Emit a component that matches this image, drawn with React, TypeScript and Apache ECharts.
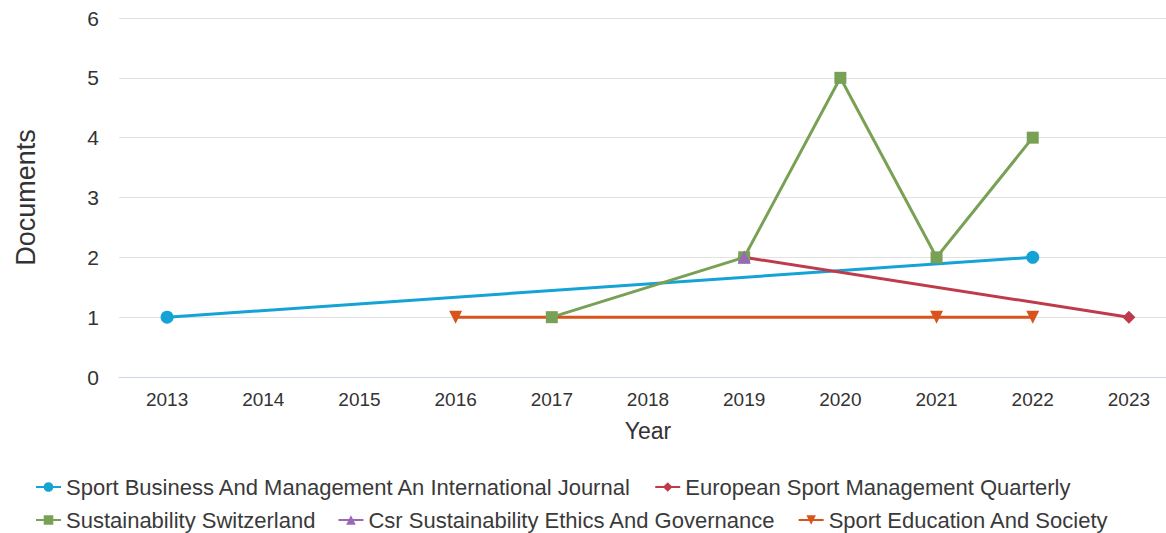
import React, { useEffect, useRef } from "react";
import * as echarts from "echarts";

const years = ["2013", "2014", "2015", "2016", "2017", "2018", "2019", "2020", "2021", "2022", "2023"];
const sportBusiness = [1, null, null, null, null, null, null, null, null, 2, null];
const europeanSport = [null, null, null, null, null, null, 2, null, null, null, 1];
const sustainability = [null, null, null, null, 1, null, 2, 5, 2, 4, null];
const csr = [null, null, null, null, null, null, 2, null, null, null, null];
const sportEducation = [null, null, null, 1, null, null, null, null, 1, 1, null];

const names = [
  "Sport Business And Management An International Journal",
  "European Sport Management Quarterly",
  "Sustainability Switzerland",
  "Csr Sustainability Ethics And Governance",
  "Sport Education And Society",
];
const colors = ["#14a3d5", "#bf3a4a", "#78a155", "#9a68b9", "#d9541d"];

export default function App() {
  const ref = useRef<HTMLDivElement>(null);
  useEffect(() => {
    if (!ref.current) return;
    const chart = echarts.init(ref.current, null, { renderer: "svg" });
    const mk = (i: number, data: (number | null)[], symbol: string, rot = 0, size = 11) => ({
      name: names[i],
      type: "line",
      data,
      connectNulls: true,
      symbol,
      symbolSize: size,
      symbolRotate: rot,
      lineStyle: { width: 3, color: colors[i] },
      itemStyle: { color: colors[i] },
    });
    const font = "Liberation Sans, Arial, sans-serif";
    const legendText = { fontSize: 22, color: "#3a3a3a", fontFamily: font };
    const legendBase = {
      left: 35,
      padding: 0,
      itemGap: 22,
      itemWidth: 25,
      itemHeight: 12,
      textStyle: legendText,
    };
    chart.setOption({
      animation: false,
      color: colors,
      textStyle: { fontFamily: font },
      grid: { left: 119, right: 23, top: 18, bottom: 156 },
      legend: [
        { ...legendBase, data: [names[0], names[1]], top: 476 },
        { ...legendBase, data: [names[2], names[3], names[4]], top: 509 },
      ],
      xAxis: {
        type: "category",
        data: years,
        boundaryGap: true,
        name: "Year",
        nameLocation: "middle",
        nameGap: 42,
        nameTextStyle: { fontSize: 23, color: "#333" },
        axisLine: { lineStyle: { color: "#ccd6eb" } },
        axisTick: { show: false },
        axisLabel: { fontSize: 19, color: "#333", margin: 13 },
      },
      yAxis: {
        type: "value",
        min: 0,
        max: 6,
        interval: 1,
        name: "Documents",
        nameLocation: "middle",
        nameGap: 80,
        nameTextStyle: { fontSize: 27, color: "#333" },
        axisLabel: { fontSize: 21, color: "#333", margin: 20 },
        splitLine: { lineStyle: { color: "#e2e2e2", width: 1 } },
      },
      series: [
        mk(0, sportBusiness, "circle", 0, 13),
        mk(1, europeanSport, "diamond", 0, 13),
        mk(2, sustainability, "rect", 0, 12),
        mk(3, csr, "triangle", 0, 13),
        mk(4, sportEducation, "triangle", 180, 13),
      ],
    });
    return () => chart.dispose();
  }, []);
  return (
    <div style={{ position: "fixed", left: 0, top: 0, width: 1166, height: 533, overflow: "hidden", background: "#fff" }}>
      <div ref={ref} style={{ width: 1200, height: 533 }} />
    </div>
  );
}
